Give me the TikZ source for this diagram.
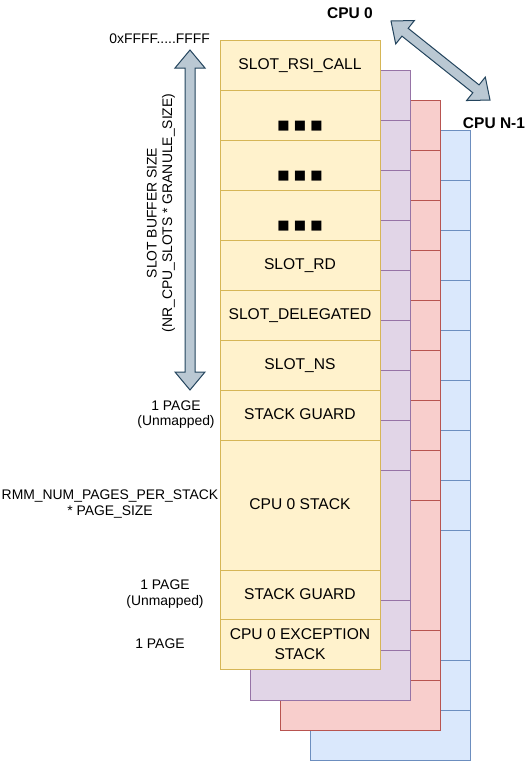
\documentclass[tikz,border=0pt]{standalone}
\usepackage{fontspec}
\setmainfont{Liberation Sans}
\newfontfamily\dejavu{DejaVu Sans}
\definecolor{yfill}{HTML}{FFF2CC}\definecolor{ystroke}{HTML}{D6B656}
\definecolor{pfill}{HTML}{E1D5E7}\definecolor{pstroke}{HTML}{9673A6}
\definecolor{rfill}{HTML}{F8CECC}\definecolor{rstroke}{HTML}{B85450}
\definecolor{bfill}{HTML}{DAE8FC}\definecolor{bstroke}{HTML}{6C8EBF}
\definecolor{afill}{HTML}{BAC8D3}\definecolor{astroke}{HTML}{23445D}
\newcommand\cpustack[3]{%
  \begin{scope}[shift={(#1,#1)}]
    \draw[fill=#2, draw=#3, line width=1pt] (220,40) rectangle (380,670);
    \foreach \yy in {90,140,190,240,290,340,390,440,570,620}
      \draw[draw=#3, line width=1pt] (220,\yy) -- (380,\yy);
  \end{scope}}
\tikzset{
  cell/.style={draw=ystroke, fill=yfill, line width=1pt, minimum width=160pt,
    minimum height=50pt, inner sep=0pt, font=\fontsize{15.6}{19.5}\selectfont},
  oneline/.style={text height=11.2pt, text depth=3pt},
  lbl/.style={font=\fontsize{13.9}{15.5}\selectfont, align=center, inner sep=0pt},
  cpu/.style={font=\bfseries\fontsize{15.5}{18}\selectfont, inner sep=0pt,
    text height=11.1pt, text depth=0pt},
  blockarrow/.style={fill=afill, draw=astroke, line width=1pt, line join=miter}
}
\begin{document}
\begin{tikzpicture}[x=1pt, y=-1pt]
\useasboundingbox (0,0) rectangle (530,761);
% back stacks (CPU N-1 ... CPU 1)
\cpustack{90}{bfill}{bstroke}
\cpustack{60}{rfill}{rstroke}
\cpustack{30}{pfill}{pstroke}
% CPU 0 stack
\node[cell, oneline] (rsi) at (300,65) {SLOT\_RSI\_CALL};
\node[cell, oneline] (dotsa) at (300,115) {\dejavu\fontsize{13}{13}\selectfont\raisebox{-10.5pt}{■ ■ ■}};
\node[cell, oneline] (dotsb) at (300,165) {\dejavu\fontsize{13}{13}\selectfont\raisebox{-10.5pt}{■ ■ ■}};
\node[cell, oneline] (dotsc) at (300,215) {\dejavu\fontsize{13}{13}\selectfont\raisebox{-10.5pt}{■ ■ ■}};
\node[cell, oneline] (rd) at (300,265) {SLOT\_RD};
\node[cell, oneline] (deleg) at (300,315) {SLOT\_DELEGATED};
\node[cell, oneline] (ns) at (300,365) {SLOT\_NS};
\node[cell, oneline] (guarda) at (300,415) {STACK GUARD};
\node[cell, oneline, minimum height=130pt] (stack) at (300,505) {CPU 0 STACK};
\node[cell, oneline] (guardb) at (300,595) {STACK GUARD};
\node[cell, align=center] (exc) at (300,644) {CPU 0 EXCEPTION\\STACK};
% left labels
\node[lbl, anchor=east, text height=10pt, text depth=0pt] (top) at (210,38) {0xFFFF.....FFFF};
\node[lbl, rotate=90] (slotsize) at (161,213) {SLOT BUFFER SIZE\\(NR\_CPU\_SLOTS * GRANULE\_SIZE)};
\node[lbl] (pga) at (176,414.5) {1 PAGE\\(Unmapped)};
\node[lbl] (stsize) at (110,504) {RMM\_NUM\_PAGES\_PER\_STACK\\* PAGE\_SIZE};
\node[lbl] (pgb) at (165,594) {1 PAGE\\(Unmapped)};
\node[lbl, text height=10pt, text depth=0pt] (pgc) at (160,643) {1 PAGE};
% CPU labels
\node[cpu] (cpu0) at (350,13) {CPU 0};
\node[cpu] (cpun) at (494,123) {CPU N-1};
% block arrows
\begin{scope}[shift={(190,50)}, rotate=-90]
  \draw[blockarrow] (0,0) -- (18,15) -- (18,5) -- (322,5) -- (322,15) -- (340,0)
    -- (322,-15) -- (322,-5) -- (18,-5) -- (18,-15) -- cycle;
\end{scope}
\begin{scope}[shift={(391,21)}, rotate=-38.6]
  \draw[blockarrow] (0,0) -- (18,15) -- (18,5) -- (108.7,5) -- (108.7,15) -- (126.7,0)
    -- (108.7,-15) -- (108.7,-5) -- (18,-5) -- (18,-15) -- cycle;
\end{scope}
\end{tikzpicture}
\end{document}
